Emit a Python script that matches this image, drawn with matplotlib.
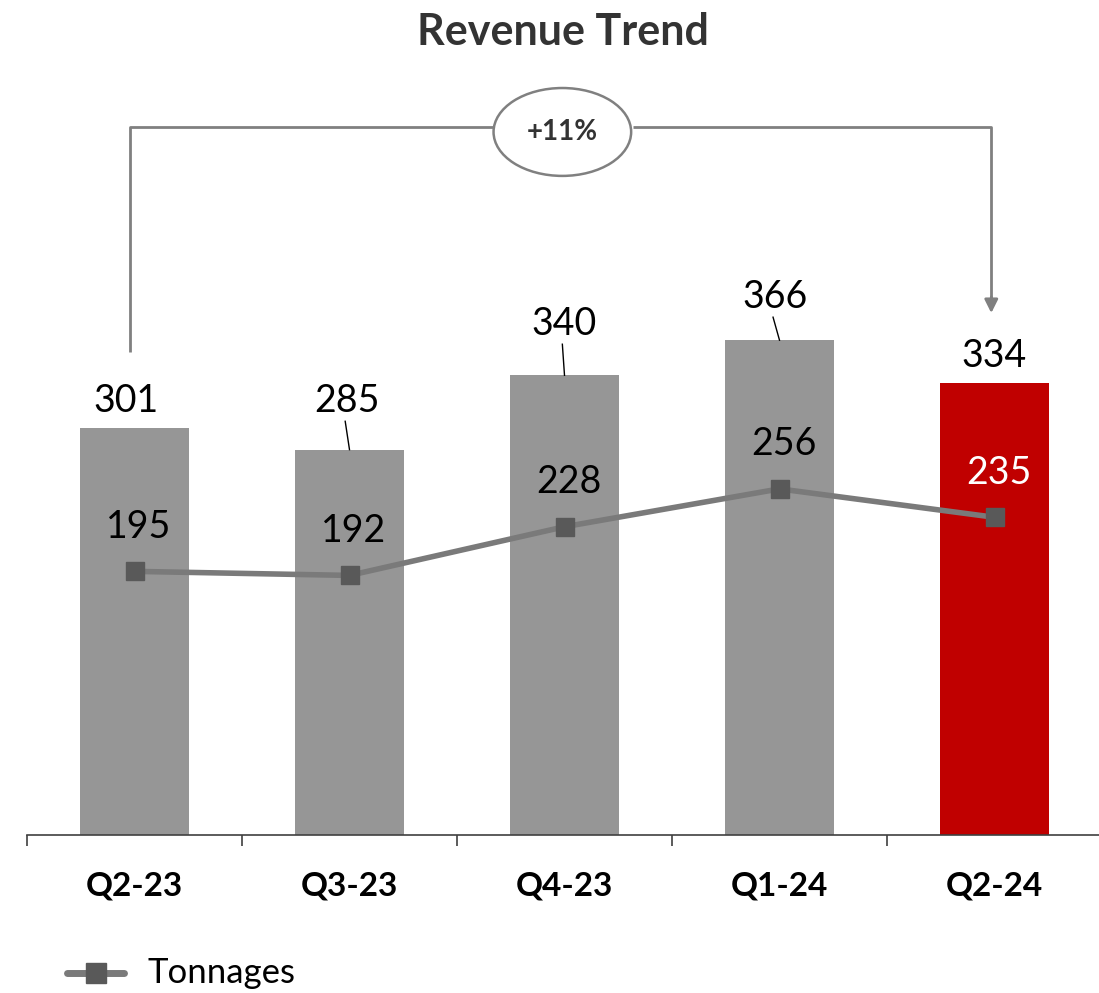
import matplotlib
matplotlib.use("Agg")
import matplotlib.pyplot as plt
from matplotlib.patches import Ellipse
import numpy as np

plt.rcParams['font.family'] = ['Lato', 'DejaVu Sans']

categories = ["Q2-23", "Q3-23", "Q4-23", "Q1-24", "Q2-24"]
revenue = [301, 285, 340, 366, 334]
tonnages = [195, 192, 228, 256, 235]
bar_colors = ["#969696", "#969696", "#969696", "#969696", "#C00000"]
growth_label = "+11%"
title = "Revenue Trend"
legend_label = "Tonnages"

W, H = 1099, 993
fig = plt.figure(figsize=(W / 100, H / 100), dpi=100)
ax_left = 27 / W
ax_bottom = 1 - 835 / H
ax_width = 1075 / W
ymax = 600
px_per_unit = 1.352
ax_height = ymax * px_per_unit / H
ax = fig.add_axes([ax_left, ax_bottom, ax_width, ax_height])

x = np.arange(len(categories))
ax.bar(x, revenue, width=0.51, color=bar_colors, zorder=2)
ax.plot(x, tonnages, color="#7a7a7a", lw=4, marker="s", markersize=13,
        markerfacecolor="#595959", markeredgecolor="#595959", zorder=3)

ax.set_xlim(-0.5, len(categories) - 0.5)
ax.set_ylim(0, ymax)
for s in ["top", "right", "left"]:
    ax.spines[s].set_visible(False)
ax.spines["bottom"].set_color("#404040")
ax.spines["bottom"].set_linewidth(1.2)
ax.set_yticks([])
ax.set_xticks(x)
ax.set_xticklabels(categories, fontsize=24, fontweight="bold", color="black")
ax.tick_params(axis="x", which="major", length=0, pad=26)
ax.set_xticks(np.arange(-0.5, len(categories) - 0.5, 1), minor=True)
ax.tick_params(axis="x", which="minor", length=8, width=1.2, color="#404040", direction="out")

# bar value labels (offsets in data units)
bar_label_dx = [-0.04, -0.01, 0.0, -0.02, 0.0]
bar_label_dy = [20, 36, 38, 32, 20]
leader = [False, True, True, True, False]
for i, v in enumerate(revenue):
    ty = v + bar_label_dy[i]
    ax.text(i + bar_label_dx[i], ty, str(v), ha="center", va="center",
            fontsize=27, color="black")
    if leader[i]:
        ax.plot([i + bar_label_dx[i] - 0.01, i], [ty - 15, v], color="black", lw=1, zorder=4)

# line value labels
line_label_dx = [0.02, 0.02, 0.02, 0.02, 0.02]
line_label_dy = [33, 33, 33, 33, 33]
line_label_colors = ["black", "black", "black", "black", "white"]
for i, v in enumerate(tonnages):
    ax.text(i + line_label_dx[i], v + line_label_dy[i], str(v), ha="center", va="center",
            fontsize=27, color=line_label_colors[i], zorder=5)

# growth bracket
bx0, bx1 = -0.02, 3.985
by = 523.5
gray = "#808080"
ax.plot([bx0, bx0, 1.68], [357, by, by], color=gray, lw=2, clip_on=False, solid_capstyle="butt")
ax.plot([2.32, bx1, bx1], [by, by, 395], color=gray, lw=2, clip_on=False, solid_capstyle="butt")
ax.annotate("", xy=(bx1, 384), xytext=(bx1, 400),
            arrowprops=dict(arrowstyle="-|>,head_length=0.8,head_width=0.4", color=gray, lw=2),
            annotation_clip=False)
ell = Ellipse((1.99, 520), width=0.64, height=65, facecolor="white", edgecolor=gray,
              lw=1.8, clip_on=False, zorder=6)
ax.add_patch(ell)
ax.text(1.99, 520, growth_label, ha="center", va="center", fontsize=20,
        fontweight="bold", color="#333333", zorder=7)

fig.text(563 / W, 1 - 32 / H, title, ha="center", va="center", fontsize=31,
         fontweight="bold", color="#333333")

# legend
lax = fig.add_axes([0, 0, 1, 1], facecolor="none")
lax.set_xlim(0, W)
lax.set_ylim(H, 0)
lax.axis("off")
lax.plot([67, 124], [973, 973], color="#7a7a7a", lw=5, solid_capstyle="round")
lax.plot([96], [973], marker="s", markersize=14, color="#595959")
lax.text(148, 973, legend_label, ha="left", va="center", fontsize=25, color="black")

fig.savefig("out.png", dpi=100)
